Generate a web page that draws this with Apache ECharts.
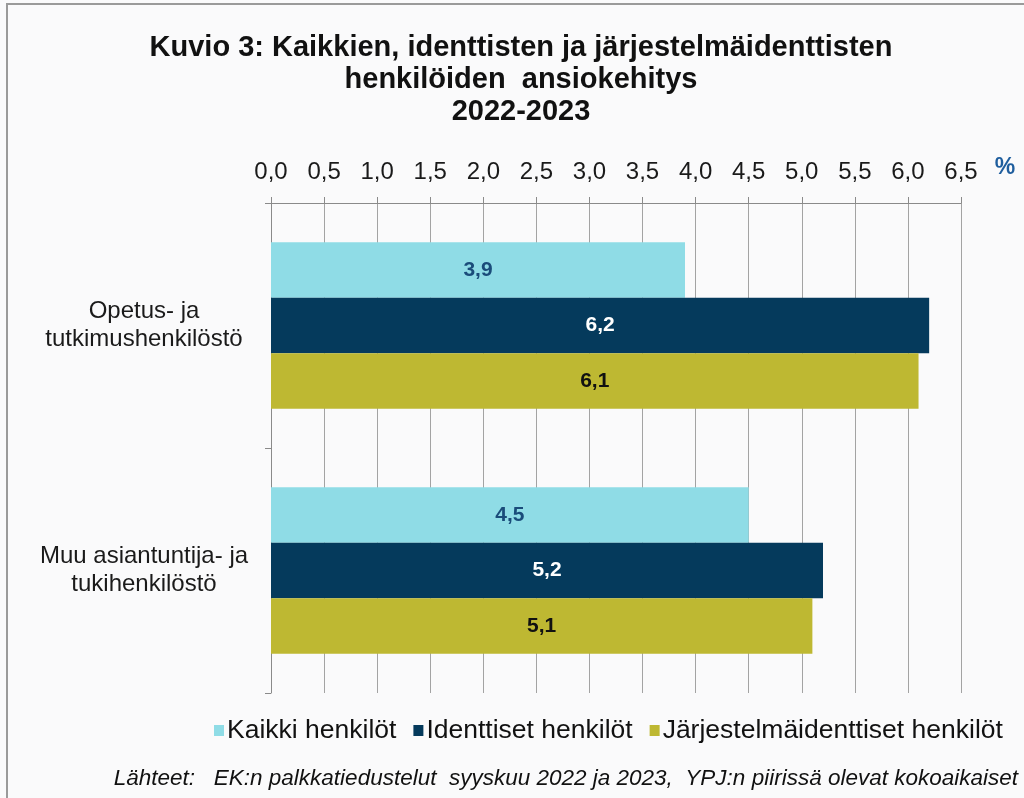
<!DOCTYPE html>
<html>
<head>
<meta charset="utf-8">
<script src="https://cdn.jsdelivr.net/npm/echarts@6/dist/echarts.min.js"></script>
<style>
  html, body { margin: 0; padding: 0; background: #fff; }
  #chart { width: 1024px; height: 798px; }
</style>
</head>
<body>
<div id="chart"></div>
<script>
// data
const categories = ['Opetus- ja\ntutkimushenkilöstö', 'Muu asiantuntija- ja\ntukihenkilöstö'];
const seriesNames = ['Kaikki henkilöt', 'Identtiset henkilöt', 'Järjestelmäidenttiset henkilöt'];
const kaikki = [3.9, 4.5];
const identtiset = [6.2, 5.2];
const jarjestelma = [6.1, 5.1];
const seriesColors = ['#8FDCE6', '#053A5C', '#BEB832'];
const labelColors = ['#1A4C7A', '#ffffff', '#111111'];

const fmt = v => v.toFixed(1).replace('.', ',');

const chart = echarts.init(document.getElementById('chart'));

const values = [kaikki, identtiset, jarjestelma];
const series = values.map((vals, i) => ({
  name: seriesNames[i],
  type: 'bar',
  data: vals,
  barGap: '0%',
  barCategoryGap: '32%',
  itemStyle: { color: seriesColors[i] },
  label: {
    show: true,
    position: 'inside',
    formatter: p => fmt(p.value),
    color: labelColors[i],
    fontFamily: 'Liberation Sans',
    fontWeight: 'bold',
    fontSize: 21
  }
}));

chart.setOption({
  backgroundColor: '#FAFAFB',
  animation: false,
  title: {
    text: 'Kuvio 3: Kaikkien, identtisten ja järjestelmäidenttisten\nhenkilöiden  ansiokehitys\n2022-2023',
    left: 516,
    top: 27,
    textAlign: 'center',
    textStyle: {
      fontFamily: 'Liberation Sans',
      fontWeight: 'bold',
      fontSize: 29,
      lineHeight: 32,
      color: '#111'
    }
  },
  legend: {
    data: seriesNames,
    left: 209,
    top: 712,
    icon: 'rect',
    itemWidth: 10,
    itemHeight: 11,
    itemGap: 17,
    textStyle: {
      fontFamily: 'Liberation Sans',
      fontSize: 26.5,
      color: '#111',
      padding: [0, 0, 0, -2]
    }
  },
  grid: { left: 271, right: 63, top: 203, bottom: 105 },
  xAxis: {
    type: 'value',
    position: 'top',
    min: 0,
    max: 6.5,
    interval: 0.5,
    axisLine: { show: true, lineStyle: { color: '#8A8A8A' } },
    axisTick: { show: true, length: 6, lineStyle: { color: '#8A8A8A' } },
    splitLine: { show: true, lineStyle: { color: '#A3A3A3' } },
    axisLabel: {
      formatter: fmt,
      margin: 19,
      fontFamily: 'Liberation Sans',
      fontSize: 24,
      color: '#1a1a1a'
    }
  },
  yAxis: {
    type: 'category',
    data: categories,
    inverse: true,
    axisLine: { show: true, lineStyle: { color: '#8A8A8A' } },
    axisTick: { show: true, length: 6, lineStyle: { color: '#8A8A8A' } },
    axisLabel: {
      align: 'center',
      margin: 127,
      fontFamily: 'Liberation Sans',
      fontSize: 24,
      lineHeight: 28,
      color: '#1a1a1a'
    }
  },
  graphic: [
    {
      type: 'rect',
      shape: { x: 7, y: 4, width: 1030, height: 800 },
      style: { fill: 'none', stroke: '#9A9A9A', lineWidth: 2 },
      silent: true
    },
    {
      type: 'text',
      x: 1005,
      y: 168,
      style: {
        text: '%',
        fill: '#1F5E9E',
        font: 'bold 23px Liberation Sans',
        textAlign: 'center',
        textVerticalAlign: 'middle'
      }
    },
    {
      type: 'text',
      x: 1018,
      y: 779,
      style: {
        text: 'Lähteet:   EK:n palkkatiedustelut  syyskuu 2022 ja 2023,  YPJ:n piirissä olevat kokoaikaiset',
        fill: '#111',
        font: 'italic 22.5px Liberation Sans',
        textAlign: 'right',
        textVerticalAlign: 'middle'
      }
    }
  ],
  series: series
});
</script>
</body>
</html>
